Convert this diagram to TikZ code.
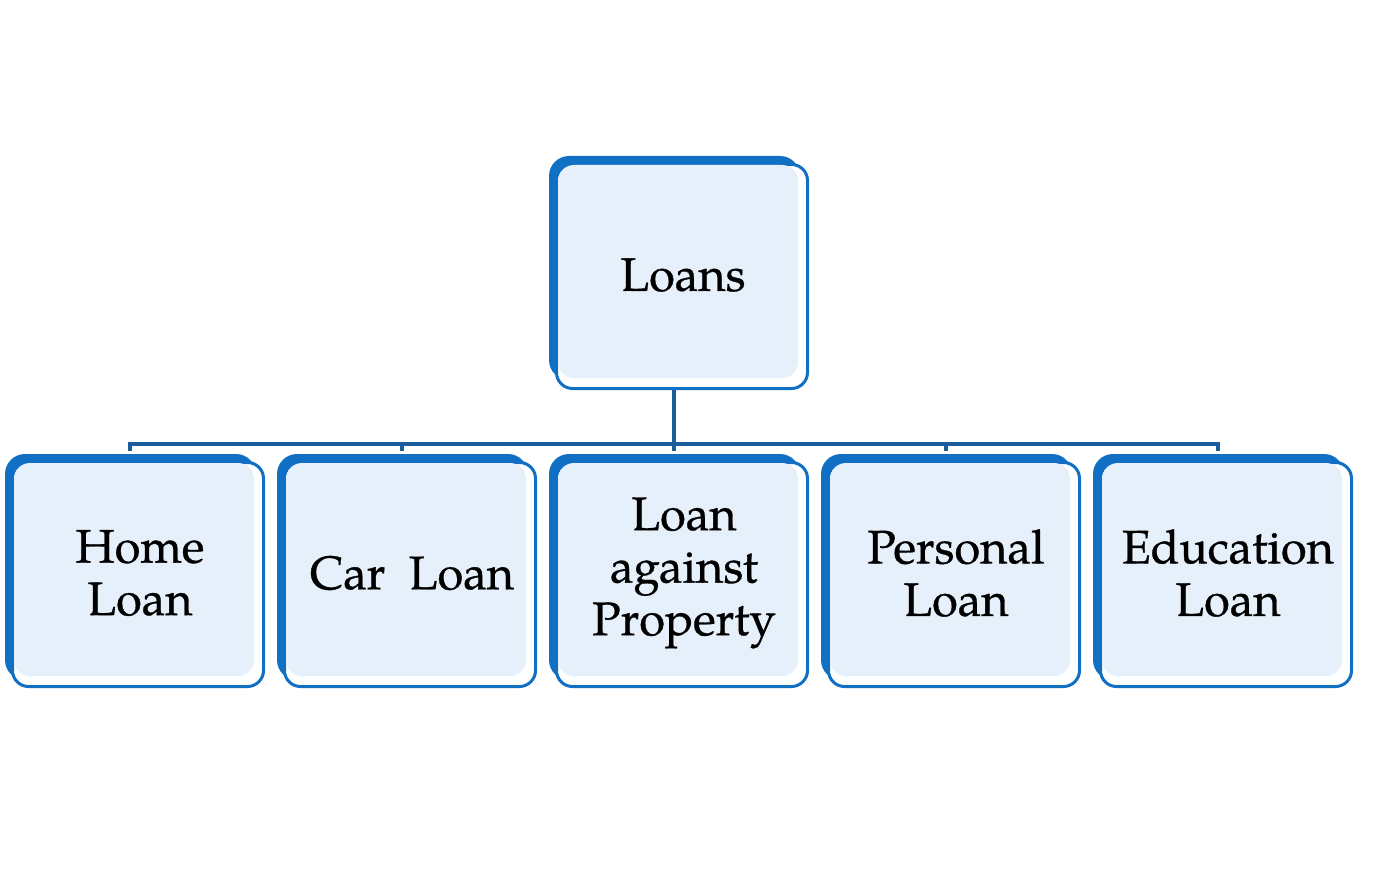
\documentclass[tikz,border=0pt]{standalone}
\usepackage{fontspec}
\setmainfont{TeX Gyre Pagella}
\newfontfamily\lblfont[FakeBold=0.7]{TeX Gyre Pagella}
\begin{document}
\begin{tikzpicture}[x=1pt,y=-1pt,
  backbox/.style={fill=boxblue, rounded corners=20pt},
  frontbox/.style={draw=boxblue, line width=3pt, fill=white, rounded corners=16pt,
    minimum width=251pt, minimum height=224pt, inner sep=0pt},
  lightbox/.style={fill=lightfill, rounded corners=16pt},
  lbl/.style={align=center, font=\lblfont\fontsize{47}{52.5}\selectfont, text=black, inner sep=0pt},
  conn/.style={draw=lineblue, line width=3.5pt}]
\definecolor{boxblue}{HTML}{1170C4}
\definecolor{lineblue}{HTML}{1A5C9C}
\definecolor{lightfill}{HTML}{E5F0FA}
\useasboundingbox (0,0) rectangle (1374,888);
\fill[white] (0,0) rectangle (1374,888);
% connectors
\coordinate (bus) at (0,444);
\coordinate (p-s) at (674,380);
\coordinate (c1-n) at (130,451);
\coordinate (c2-n) at (402,451);
\coordinate (c3-n) at (674,451);
\coordinate (c4-n) at (946,451);
\coordinate (c5-n) at (1218,451);
\draw[conn, line width=4pt] (p-s) -- (c3-n);
\draw[conn, line join=miter] (c1-n) -- (c1-n|-bus) -- (c5-n|-bus) -- (c5-n);
\foreach \i in {2,3,4} \draw[conn] (c\i-n|-bus) -- (c\i-n);
% parent
\fill[backbox] (549,156) rectangle (800,380);
\node[frontbox] (p-frame) at (682,276.5) {};
\fill[lightbox] (558,165) rectangle (798,378);
\node[lbl] (p) at ([xshift=1pt,yshift=1.5pt]p-frame.center) {Loans};
% children
\foreach \bx/\name/\txt in {5/c1/{Home\\Loan}, 277/c2/{Car\ \ Loan}, 549/c3/{Loan\\against\\Property}, 821/c4/{Personal\\Loan}, 1093/c5/{Education\\Loan}} {
  \fill[backbox] (\bx,454) rectangle ++(251,226);
  \node[frontbox] (\name-frame) at (\bx+133,574.5) {};
  \fill[lightbox] (\bx+9,463) rectangle ++(240,213);
  \node[lbl] (\name) at ([xshift=2pt,yshift=1.5pt]\name-frame.center) {\txt};
}
\end{tikzpicture}
\end{document}
